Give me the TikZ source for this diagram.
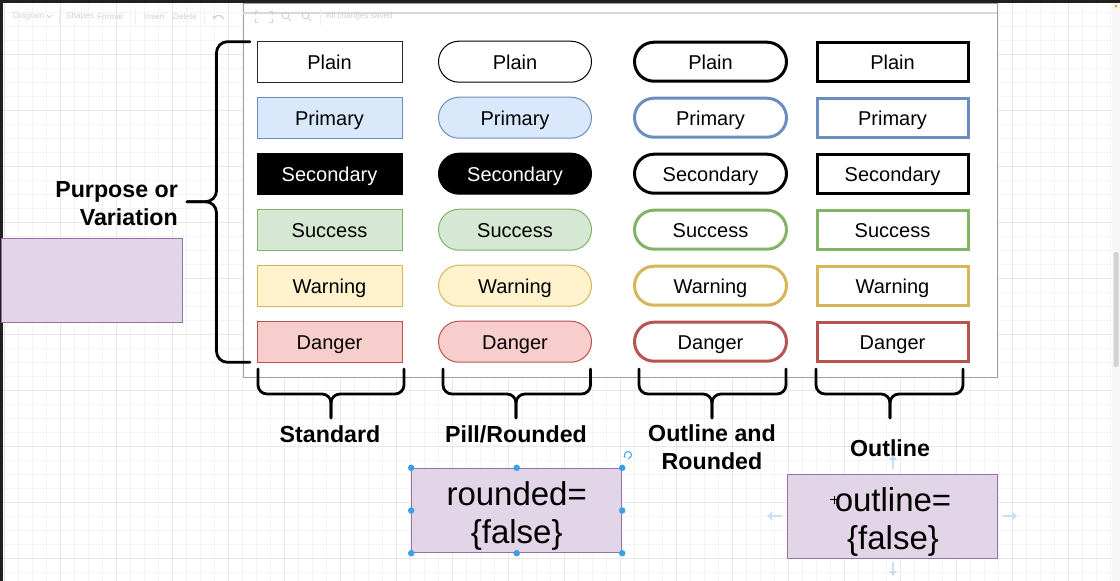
\documentclass[tikz,border=0pt]{standalone}
\usepackage{fontspec}
\setmainfont{Liberation Sans}
\usetikzlibrary{arrows.meta}
\definecolor{blueF}{HTML}{DAE8FC}\definecolor{blueS}{HTML}{6C8EBF}
\definecolor{greenF}{HTML}{D5E8D4}\definecolor{greenS}{HTML}{82B366}
\definecolor{yellowF}{HTML}{FFF2CC}\definecolor{yellowS}{HTML}{D6B656}
\definecolor{redF}{HTML}{F8CECC}\definecolor{redS}{HTML}{B85450}
\definecolor{purpF}{HTML}{E1D5E7}\definecolor{purpS}{HTML}{9673A6}
\definecolor{gridMinor}{HTML}{F4F4F4}\definecolor{gridMajor}{HTML}{E7E7E7}
\definecolor{handleC}{HTML}{3D9FE8}\definecolor{hoverC}{HTML}{C9DFF6}
\definecolor{uiC}{HTML}{D2D2D2}\definecolor{uiLine}{HTML}{EFEFEF}\definecolor{darkC}{HTML}{202020}
\newcommand\btnfont{\fontsize{20}{24}\selectfont}
\newcommand\lblfont{\fontsize{23.2}{27.5}\selectfont\bfseries}
\newcommand\bigfont{\fontsize{33}{37.5}\selectfont}
\newcommand\uifont{\fontsize{8.2}{10}\selectfont}
\tikzset{
  btn/.style={rectangle, minimum width=145, minimum height=41, inner sep=0, line width=1pt, font=\btnfont, text=black, text height=16.4, text depth=0},
  pillbtn/.style={btn, minimum width=153, rounded corners=20.5},
  obtn/.style={btn, minimum width=152, minimum height=39, line width=3pt, rounded corners=19.5, fill=white},
  orect/.style={btn, minimum width=151, minimum height=39, line width=3pt, fill=white},
  lbl/.style={font=\lblfont, align=center, inner sep=0},
  bracestyle/.style={line width=2.8pt, rounded corners=11, line cap=round},
  hbrace/.style={line width=2.8pt, rounded corners=9, line cap=round},
  purpbox/.style={rectangle, fill=purpF, draw=purpS, line width=1pt, inner sep=0},
  handle/.style={circle, fill=handleC, inner sep=0, minimum size=6.5},
  hover/.style={draw=hoverC, line width=2.6pt, -{Triangle[length=5pt,width=8pt]}},
  uitext/.style={font=\uifont, text=uiC, inner sep=0, anchor=west},
  uiicon/.style={draw=uiC, line width=0.9pt}
}
\begin{document}
\begin{tikzpicture}[x=1pt,y=-1pt]
\useasboundingbox (0,0) rectangle (1120,581);
\fill[white] (0,0) rectangle (1120,581);
% grid
\foreach \x in {4,18,...,1116} \draw[gridMinor, line width=0.8pt] (\x,0) -- (\x,581);
\foreach \y in {12,26,...,580} \draw[gridMinor, line width=0.8pt] (0,\y) -- (1120,\y);
\foreach \x in {4,60,...,1116} \draw[gridMajor, line width=0.9pt] (\x,0) -- (\x,581);
\foreach \y in {54,110,...,580} \draw[gridMajor, line width=0.9pt] (0,\y) -- (1120,\y);
% page frame
\node[rectangle, fill=white, draw=gray!75, line width=1.2pt, inner sep=0, minimum width=754, minimum height=374, anchor=north west] (frame) at (243,3) {};
\draw[gray!30, line width=1.6pt] (frame.north west) ++(0,9.7) -- ++(754,0);
% toolbar (faint UI)
\node[uitext] (tDiagram) at (13,16.5) {Diagram};
\draw[uiicon] (47,15) -- (49.5,17.5) -- (52,15);
\node[uitext] (tShapes) at (66,16.5) {Shapes};
\node[uitext] (tFormat) at (97,16.5) {Format};
\node[uitext] (tInsert) at (144,16.5) {Insert};
\node[uitext] (tDelete) at (173,16.5) {Delete};
\node[uitext] (tSaved) at (326,16.5) {All changes saved};
\draw[uiLine, line width=0.8pt] (59,9) -- (59,25) (135,9) -- (135,25) (204,9) -- (204,25) (320,9) -- (320,25);
\draw[uiicon, line width=1.3pt, -{Triangle[length=2.5pt,width=4pt]}] (224,19) arc[start angle=-20, end angle=-160, radius=5.5];
\draw[uiicon] (255,15) |- (258,11.5) (269,11.5) -| (272,15) (255,19) |- (258,22.5) (269,22.5) -| (272,19);
\draw[uiicon] (285.5,15.5) circle[radius=3.3] (288,18) -- (291,21);
\draw[uiicon] (305.5,15.5) circle[radius=3.3] (308,18) -- (311,21);
% dark window edges, scrollbar
\fill[darkC] (0,0) rectangle (1120,3);
\fill[darkC] (0,0) rectangle (3,581);
\fill[gray!7] (1112,3) rectangle (1120,581);
\fill[gray!35, rounded corners=2] (1113.5,252) rectangle (1118.5,367);
\fill[orange!80] (1116,6) circle[radius=1.6];
% left purple box
\node[purpbox, minimum width=181, minimum height=84, anchor=north west] (leftbox) at (1,238.3) {};
% --- Standard column
\node[btn, draw=black!85, fill=white] (s1) at (329.5,61.7) {Plain};
\node[btn, draw=blueS, fill=blueF] (s2) at (329.5,117.7) {Primary};
\node[btn, draw=black, fill=black, text=white] (s3) at (329.5,173.7) {Secondary};
\node[btn, draw=greenS, fill=greenF] (s4) at (329.5,229.7) {Success};
\node[btn, draw=yellowS, fill=yellowF] (s5) at (329.5,285.7) {Warning};
\node[btn, draw=redS, fill=redF] (s6) at (329.5,341.7) {Danger};
% --- Pill column
\node[pillbtn, draw=black, fill=white] (p1) at (515,61.7) {Plain};
\node[pillbtn, draw=blueS, fill=blueF] (p2) at (515,117.7) {Primary};
\node[pillbtn, draw=black, fill=black, text=white] (p3) at (515,173.7) {Secondary};
\node[pillbtn, draw=greenS, fill=greenF] (p4) at (515,229.7) {Success};
\node[pillbtn, draw=yellowS, fill=yellowF] (p5) at (515,285.7) {Warning};
\node[pillbtn, draw=redS, fill=redF] (p6) at (515,341.7) {Danger};
% --- Outline rounded column
\node[obtn, draw=black] (r1) at (710.5,61.7) {Plain};
\node[obtn, draw=blueS] (r2) at (710.5,117.7) {Primary};
\node[obtn, draw=black] (r3) at (710.5,173.7) {Secondary};
\node[obtn, draw=greenS] (r4) at (710.5,229.7) {Success};
\node[obtn, draw=yellowS] (r5) at (710.5,285.7) {Warning};
\node[obtn, draw=redS] (r6) at (710.5,341.7) {Danger};
% --- Outline column
\node[orect, draw=black] (o1) at (892.5,61.7) {Plain};
\node[orect, draw=blueS] (o2) at (892.5,117.7) {Primary};
\node[orect, draw=black] (o3) at (892.5,173.7) {Secondary};
\node[orect, draw=greenS] (o4) at (892.5,229.7) {Success};
\node[orect, draw=yellowS] (o5) at (892.5,285.7) {Warning};
\node[orect, draw=redS] (o6) at (892.5,341.7) {Danger};
% left curly brace
\coordinate (bTop) at (250,41.7);
\coordinate (bTip) at (187,201.7);
\coordinate (bBot) at (250,362.3);
\draw[bracestyle] (bTop) -- (216.5,41.7) -- (216.5,201.7) -- (bTip);
\draw[bracestyle] (bTip) -- (216.5,201.7) -- (216.5,362.3) -- (bBot);
\node[lbl, align=right, anchor=east] (purpose) at (178,203.7) {Purpose or\\Variation};
% bottom braces
\foreach \a/\b/\m in {258/404/331, 443/590.5/516, 639/786/712, 816/963/890}{
  \draw[hbrace] (\a,369) -- (\a,394) -- (\m,394) -- (\m,418);
  \draw[hbrace] (\b,369) -- (\b,394) -- (\m,394) -- (\m,418);
}
\node[lbl] (lStd) at (330,434) {Standard};
\node[lbl] (lPill) at (516,434) {Pill/Rounded};
\node[lbl, font=\fontsize{23.2}{28}\selectfont\bfseries] (lOR) at (712,447) {Outline and\\Rounded};
\node[lbl] (lOut) at (890,448) {Outline};
% purple boxes
\node[purpbox, minimum width=210, minimum height=84.4] (rbox) at (516.7,510.5) {};
\node[font=\bigfont, align=center, inner sep=0] (rtext) at (516.7,516) {rounded=\\\{false\}};
\foreach \p in {north west, north, north east, west, east, south west, south, south east}
  \node[handle] at (rbox.\p) {};
\draw[handleC, line width=1pt, -{Stealth[length=2.5pt]}] (628,458.5) arc[start angle=90, end angle=-230, radius=3.5];
\node[purpbox, minimum width=210, minimum height=84] (obox) at (892.7,516.3) {};
\node[font=\bigfont, align=center, inner sep=0] (otext) at (893,522) {outline=\\\{false\}};
\draw[hover] (893,469) -- (893,455);
\draw[hover] (893,562) -- (893,576);
\draw[hover] (782,516) -- (767,516);
\draw[hover] (1003,516) -- (1017,516);
\draw[black, line width=0.8pt] (830,499.5) -- (838,499.5) (834,495.5) -- (834,503.5);
\end{tikzpicture}
\end{document}
